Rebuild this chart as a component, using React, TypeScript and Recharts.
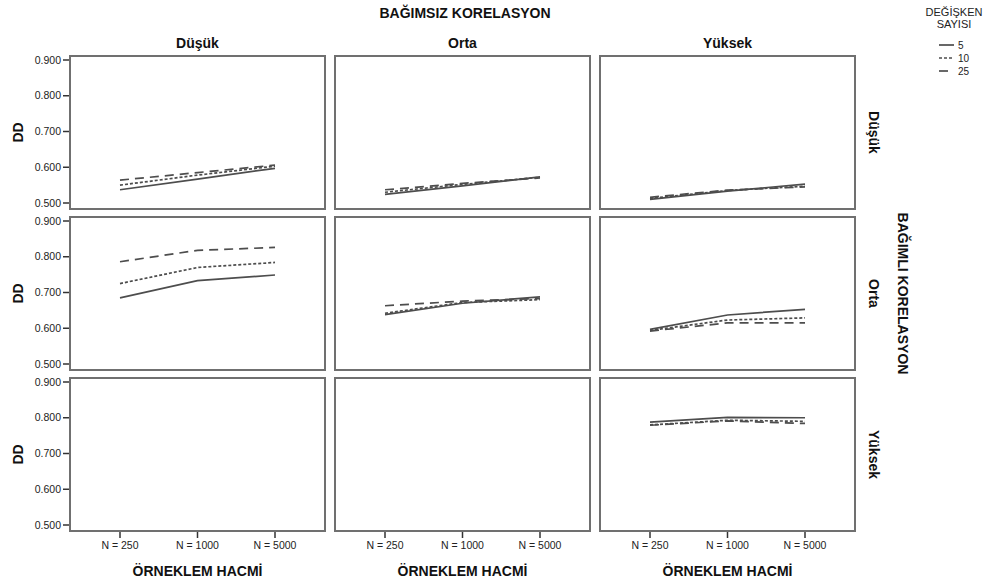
import { Line, LineChart, XAxis, YAxis } from 'recharts'

const sampleSizes = ['N = 250', 'N = 1000', 'N = 5000']
const yTicks = [0.5, 0.6, 0.7, 0.8, 0.9]
const colLabels = ['Düşük', 'Orta', 'Yüksek']
const rowLabels = ['Düşük', 'Orta', 'Yüksek']
const legendItems = ['5', '10', '25']

// DD by sample size; rows = dependent correlation, cols = independent correlation
const lowLow5 = [0.537, 0.567, 0.597]
const lowLow10 = [0.55, 0.578, 0.603]
const lowLow25 = [0.564, 0.585, 0.606]

const lowMid5 = [0.524, 0.548, 0.573]
const lowMid10 = [0.53, 0.552, 0.572]
const lowMid25 = [0.537, 0.555, 0.57]

const lowHigh5 = [0.51, 0.533, 0.553]
const lowHigh10 = [0.513, 0.535, 0.547]
const lowHigh25 = [0.516, 0.536, 0.545]

const midLow5 = [0.685, 0.733, 0.749]
const midLow10 = [0.725, 0.77, 0.784]
const midLow25 = [0.786, 0.818, 0.826]

const midMid5 = [0.638, 0.67, 0.688]
const midMid10 = [0.642, 0.672, 0.68]
const midMid25 = [0.663, 0.676, 0.683]

const midHigh5 = [0.597, 0.637, 0.653]
const midHigh10 = [0.594, 0.623, 0.629]
const midHigh25 = [0.592, 0.615, 0.615]

const highHigh5 = [0.788, 0.801, 0.8]
const highHigh10 = [0.78, 0.793, 0.79]
const highHigh25 = [0.779, 0.791, 0.784]

type Series = (number | null)[] | undefined

const FONT = '"Liberation Sans", Arial, sans-serif'
const COL_X = [69, 334, 599]
const ROW_Y = [55, 216, 377]
const PW = 257
const PH = 155
const Y_W = 62
const X_H = 30
const LINE = '#4d4d4d'

const dashes: Record<string, string | undefined> = { k5: undefined, k10: '3 2', k25: '9 6' }

function Panel({ row, col, s5, s10, s25 }: { row: number; col: number; s5?: Series; s10?: Series; s25?: Series }) {
  const showY = col === 0
  const showX = row === 2
  const left = COL_X[col] - (showY ? Y_W : 0)
  const top = ROW_Y[row]
  const width = PW + (showY ? Y_W : 0)
  const height = PH + (showX ? X_H : 0)
  const data = sampleSizes.map((n, i) => ({
    n,
    k5: s5 ? s5[i] : null,
    k10: s10 ? s10[i] : null,
    k25: s25 ? s25[i] : null,
  }))
  return (
    <div style={{ position: 'absolute', left, top, width, height }}>
      <LineChart width={width} height={height} data={data} margin={{ top: 0, right: 0, bottom: 0, left: 0 }}>
        <XAxis
          dataKey="n"
          hide={!showX}
          height={X_H}
          padding={{ left: 51, right: 51 }}
          interval={0}
          axisLine={false}
          tickSize={6}
          tickMargin={4}
          tickLine={{ stroke: '#333', strokeWidth: 1.5 }}
          tick={{ fontSize: 10.5, fill: '#222', fontFamily: FONT }}
        />
        <YAxis
          hide={!showY}
          width={Y_W}
          type="number"
          domain={[0.5, 0.9]}
          allowDataOverflow
          ticks={yTicks}
          padding={{ top: 5, bottom: 7 }}
          tickFormatter={(v: number) => v.toFixed(3)}
          axisLine={false}
          tickSize={6}
          tickLine={{ stroke: '#333', strokeWidth: 1.5 }}
          tick={{ fontSize: 10.5, fill: '#222', fontFamily: FONT }}
        />
        {(['k5', 'k10', 'k25'] as const).map(k => (
          <Line
            key={k}
            dataKey={k}
            type="linear"
            stroke={LINE}
            strokeWidth={1.7}
            strokeDasharray={dashes[k]}
            dot={false}
            activeDot={false}
            isAnimationActive={false}
          />
        ))}
      </LineChart>
      <div
        style={{
          position: 'absolute',
          left: showY ? Y_W : 0,
          top: 0,
          width: PW,
          height: PH,
          border: '2px solid #707070',
          boxSizing: 'border-box',
          pointerEvents: 'none',
        }}
      />
    </div>
  )
}

export default function App() {
  const cx = COL_X.map(x => x + PW / 2)
  const cy = ROW_Y.map(y => y + PH / 2)
  const bold = { fontFamily: FONT, fontWeight: 700, fill: '#111' }
  return (
    <div style={{ position: 'absolute', left: 0, top: 0, width: 996, height: 583, background: '#fff', overflow: 'hidden' }}>
      <Panel row={0} col={0} s5={lowLow5} s10={lowLow10} s25={lowLow25} />
      <Panel row={0} col={1} s5={lowMid5} s10={lowMid10} s25={lowMid25} />
      <Panel row={0} col={2} s5={lowHigh5} s10={lowHigh10} s25={lowHigh25} />
      <Panel row={1} col={0} s5={midLow5} s10={midLow10} s25={midLow25} />
      <Panel row={1} col={1} s5={midMid5} s10={midMid10} s25={midMid25} />
      <Panel row={1} col={2} s5={midHigh5} s10={midHigh10} s25={midHigh25} />
      <Panel row={2} col={0} />
      <Panel row={2} col={1} />
      <Panel row={2} col={2} s5={highHigh5} s10={highHigh10} s25={highHigh25} />

      <svg width={996} height={583} style={{ position: 'absolute', left: 0, top: 0, pointerEvents: 'none' }}>
        <text x={465} y={18} textAnchor="middle" fontSize={14} {...bold}>BAĞIMSIZ KORELASYON</text>
        {colLabels.map((t, i) => (
          <text key={'c' + i} x={cx[i]} y={48} textAnchor="middle" fontSize={14} {...bold}>{t}</text>
        ))}
        {cy.map((y, i) => (
          <text key={'dd' + i} transform={`translate(23,${y}) rotate(-90)`} textAnchor="middle" fontSize={14} {...bold}>DD</text>
        ))}
        {rowLabels.map((t, i) => (
          <text key={'r' + i} transform={`translate(869,${cy[i]}) rotate(90)`} textAnchor="middle" fontSize={14} {...bold}>{t}</text>
        ))}
        <text transform={`translate(898,${cy[1]}) rotate(90)`} textAnchor="middle" fontSize={14} {...bold}>BAĞIMLI KORELASYON</text>
        {cx.map((x, i) => (
          <text key={'x' + i} x={x} y={576} textAnchor="middle" fontSize={14} {...bold}>ÖRNEKLEM HACMİ</text>
        ))}

        <text x={954} y={16} textAnchor="middle" fontSize={11} fontFamily={FONT} fill="#222">DEĞİŞKEN</text>
        <text x={954} y={28} textAnchor="middle" fontSize={11} fontFamily={FONT} fill="#222">SAYISI</text>
        {legendItems.map((t, i) => {
          const y = 45 + i * 13
          const k = ['k5', 'k10', 'k25'][i]
          return (
            <g key={'l' + i}>
              <line x1={939} x2={954} y1={y} y2={y} stroke={LINE} strokeWidth={1.7} strokeDasharray={k === 'k25' ? '9 12' : dashes[k]} />
              <text x={958} y={y + 4} fontSize={10} fontFamily={FONT} fill="#222">{t}</text>
            </g>
          )
        })}
      </svg>
    </div>
  )
}
